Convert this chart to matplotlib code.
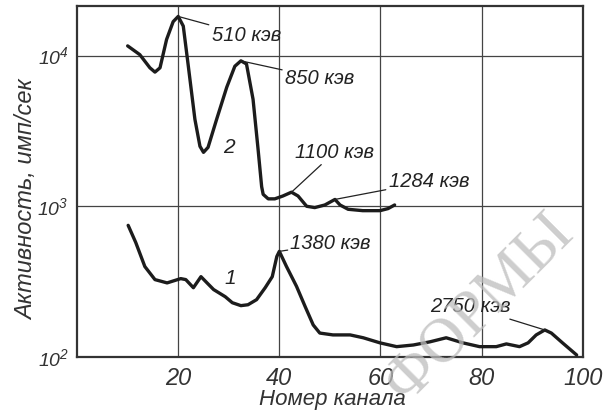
import matplotlib
matplotlib.use("Agg")
import matplotlib.pyplot as plt
import numpy as np

# curve 2 (upper spectrum)
ch2 = [10.0, 12.4, 14.4, 15.4, 16.4, 17.7, 19.0, 20.0, 21.0, 22.0, 23.3, 24.3, 25.0,
       25.9, 27.6, 29.6, 31.2, 32.4, 33.5, 34.8, 35.8, 36.5, 36.8, 37.8, 39.1, 40.7,
       42.4, 43.7, 45.4, 47.0, 49.0, 51.0, 52.0, 53.6, 56.5, 59.9, 61.5, 62.8]
act2 = [11600, 10150, 8300, 7770, 8300, 12800, 16800, 18200, 15700, 8500, 3780, 2500, 2280,
        2460, 3780, 6170, 8500, 9230, 8800, 5130, 2380, 1350, 1200, 1120, 1120, 1170,
        1240, 1170, 1000, 980, 1020, 1110, 1020, 955, 935, 935, 965, 1020]

# curve 1 (lower spectrum)
ch1 = [10.1, 11.6, 13.4, 15.4, 17.8, 20.5, 21.5, 23.0, 24.5, 25.7, 27.0, 29.3, 30.7,
       32.4, 33.8, 35.5, 37.2, 38.6, 39.5, 40.0, 41.4, 43.4, 45.1, 46.7, 48.0, 50.6,
       54.0, 56.6, 59.9, 63.2, 66.5, 69.8, 73.0, 76.3, 79.6, 82.9, 84.9, 87.5, 89.2,
       90.8, 92.5, 93.8, 96.0, 98.8]
act1 = [747, 575, 398, 326, 310, 331, 326, 288, 341, 310, 280, 251, 229,
        219, 222, 240, 288, 341, 464, 502, 399, 294, 216, 163, 144, 140,
        140, 134, 124, 117, 120, 126, 134, 124, 117, 117, 122, 117, 124,
        140, 151, 144, 124, 103]

# peak labels: text, peak (channel, activity), text position (channel, activity)
peak_labels = ["510 кэв", "850 кэв", "1100 кэв", "1284 кэв", "1380 кэв", "2750 кэв"]
peak_xy = [(20.0, 18200), (32.4, 9230), (42.4, 1240), (51.0, 1110), (40.0, 502), (92.5, 151)]
text_xy = [(26.6, 13700), (41.1, 7100), (43.1, 2280), (61.6, 1460), (42.2, 565), (69.8, 215)]

xticks = [20, 40, 60, 80, 100]
yticks = [1e2, 1e3, 1e4]
ytick_labels = ["$10^2$", "$10^3$", "$10^4$"]

fam = ["Liberation Sans", "DejaVu Sans"]
plt.rcParams["font.family"] = fam
plt.rcParams["font.style"] = "italic"
plt.rcParams["mathtext.fontset"] = "custom"
plt.rcParams["mathtext.it"] = "Liberation Sans:italic"
plt.rcParams["mathtext.rm"] = "Liberation Sans:italic"
plt.rcParams["mathtext.default"] = "it"

ink = "#1c1c1c"

fig = plt.figure(figsize=(6.07, 4.16), dpi=100)
ax = fig.add_axes([0.127, 0.142, 0.833, 0.844])

ax.plot(ch2, act2, color=ink, lw=2.4, solid_capstyle="round", solid_joinstyle="round", zorder=3)
ax.plot(ch1, act1, color=ink, lw=2.4, solid_capstyle="round", solid_joinstyle="round", zorder=3)

ax.set_yscale("log")
ax.set_xlim(0, 100)
ax.set_ylim(100, 21400)
ax.set_xticks(xticks)
ax.set_xticklabels([str(t) for t in xticks], fontsize=17)
ax.set_yticks(yticks)
ax.set_yticklabels(ytick_labels, fontsize=14)
ax.minorticks_off()
ax.tick_params(length=0, colors="#333333")
ax.tick_params(axis="x", pad=7)
ax.tick_params(axis="y", pad=6)
ax.grid(True, color="#444444", lw=0.9)

for s in ax.spines.values():
    s.set_color("#333333")
    s.set_linewidth(1.6)

for lab, xy, txy in zip(peak_labels, peak_xy, text_xy):
    ax.annotate(lab, xy=xy, xytext=txy, fontsize=14.5, ha="left", va="center",
                color="#222222",
                arrowprops=dict(arrowstyle="-", color="#222222", lw=0.9,
                                shrinkA=0, shrinkB=0))

ax.text(30.0, 2450, "2", fontsize=15, ha="center", va="center", color="#222222")
ax.text(30.3, 330, "1", fontsize=15, ha="center", va="center", color="#222222")

ax.set_xlabel("Номер канала", fontsize=16, color="#333333")
ax.xaxis.set_label_coords(0.504, -0.122)
ax.xaxis.label.set_va("center")
ax.set_ylabel("Активность, имп/сек", fontsize=17, color="#333333")
ax.yaxis.set_label_coords(-0.099, 0.447)
ax.yaxis.label.set_va("center")

fig.text(0.79, 0.26, "ФОРМЫ", family="Liberation Serif", style="normal",
         fontsize=45, color="#bdbdbd", alpha=0.75, rotation=45,
         ha="center", va="center", rotation_mode="anchor", zorder=5)

fig.savefig("out.png", dpi=100)
